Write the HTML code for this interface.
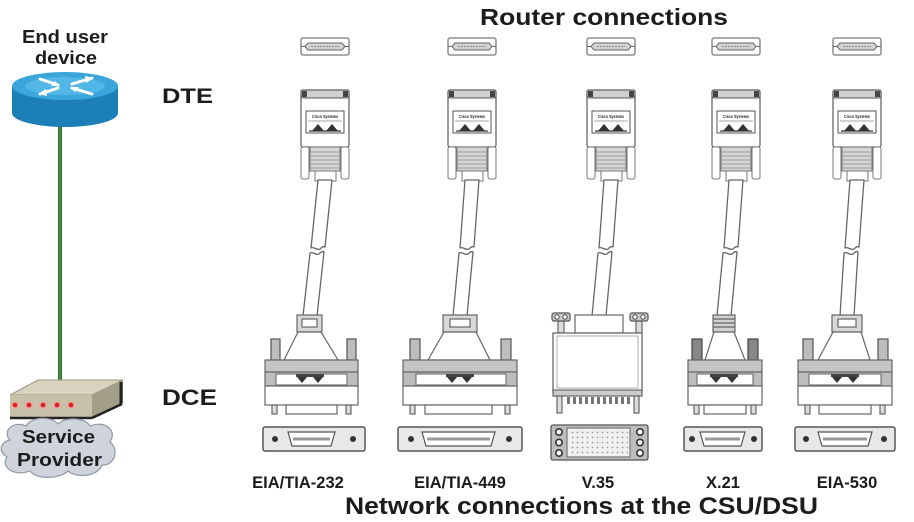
<!DOCTYPE html>
<html><head><meta charset="utf-8">
<style>
html,body{margin:0;padding:0;background:#fff;}
svg{display:block;}
text{font-family:"Liberation Sans",Arial,sans-serif;font-weight:bold;fill:#1c1c1c;}
</style></head><body>
<svg width="914" height="522" viewBox="0 0 914 522" xmlns="http://www.w3.org/2000/svg">
<defs>
<pattern id="pins" x="0" y="0" width="5" height="5" patternUnits="userSpaceOnUse">
<circle cx="2.5" cy="2.5" r="0.9" fill="#9a9a9a"/>
</pattern>
<g id="top">
 <rect x="-24" y="38" width="48" height="17" rx="2" fill="#fff" stroke="#7a7a7a" stroke-width="1.3"/>
 <path d="M-17,43 L17,43 L20,46.5 L17,50 L-17,50 L-20,46.5 Z" fill="#d4d4d4" stroke="#666" stroke-width="1"/>
 <line x1="-14" y1="46.5" x2="14" y2="46.5" stroke="#888" stroke-width="1" stroke-dasharray="2 1"/>
 <line x1="-24" y1="46.5" x2="-20" y2="46.5" stroke="#666"/>
 <line x1="20" y1="46.5" x2="24" y2="46.5" stroke="#666"/>
 <rect x="-24" y="90" width="48" height="57" rx="2" fill="#fff" stroke="#666" stroke-width="1.3"/>
 <rect x="-24" y="90" width="48" height="8" rx="2" fill="#d0d0d0" stroke="#555"/>
 <rect x="-23" y="91" width="5" height="6" fill="#444"/>
 <rect x="18" y="91" width="5" height="6" fill="#444"/>
 <rect x="-19" y="111" width="38" height="22" fill="#fff" stroke="#555"/>
 <line x1="-17" y1="121" x2="17" y2="121" stroke="#888" stroke-width="0.8"/>
 <line x1="-16" y1="131" x2="16" y2="131" stroke="#333" stroke-width="1.2"/>
 <path d="M-13,131 L-7,124 L-1,131 Z M1,131 L7,124 L13,131 Z" fill="#333"/>
 <rect x="-24" y="147" width="8" height="32" rx="2" fill="#fff" stroke="#777"/>
 <rect x="16" y="147" width="8" height="32" rx="2" fill="#fff" stroke="#777"/>
 <rect x="-15" y="147" width="30" height="24" fill="#d6d6d6" stroke="#777"/>
 <g stroke="#999" stroke-width="1">
  <line x1="-15" y1="152" x2="15" y2="152"/><line x1="-15" y1="156" x2="15" y2="156"/>
  <line x1="-15" y1="160" x2="15" y2="160"/><line x1="-15" y1="164" x2="15" y2="164"/>
  <line x1="-15" y1="168" x2="15" y2="168"/>
 </g>
 <rect x="-10" y="171" width="21" height="10" fill="#fff" stroke="#777"/>
</g>
</defs>

<!-- Titles -->
<text x="480" y="25" font-size="23" textLength="248" lengthAdjust="spacingAndGlyphs">Router connections</text>
<text x="345" y="514" font-size="24" textLength="473" lengthAdjust="spacingAndGlyphs">Network connections at the CSU/DSU</text>

<!-- Left side -->
<text x="22" y="43" font-size="18" textLength="86" lengthAdjust="spacingAndGlyphs">End user</text>
<text x="35" y="64" font-size="18" textLength="62" lengthAdjust="spacingAndGlyphs">device</text>
<text x="162" y="103" font-size="21" textLength="51" lengthAdjust="spacingAndGlyphs">DTE</text>
<text x="162" y="405" font-size="22" textLength="55" lengthAdjust="spacingAndGlyphs">DCE</text>

<!-- green link -->
<line x1="60" y1="120" x2="60" y2="386" stroke="#2f6f2f" stroke-width="4"/>
<line x1="60" y1="120" x2="60" y2="386" stroke="#5f9f5f" stroke-width="1"/>

<!-- router icon -->
<path d="M12,86 L12,113 A53,14 0 0 0 118,113 L118,86 Z" fill="#1c7fb8"/>
<ellipse cx="65" cy="86" rx="53" ry="14" fill="#3ba6dc"/>
<ellipse cx="65" cy="86" rx="40" ry="9" fill="#52b6e6"/>
<g stroke="#fff" stroke-width="3" fill="none" stroke-linecap="round">
 <path d="M40,79 L58,85"/><path d="M72,88 L92,94"/>
 <path d="M40,94 L58,88"/><path d="M72,84 L92,78"/>
</g>
<g fill="#fff">
 <path d="M60,86 L51,86 L55,81 Z"/><path d="M70,87 L79,87 L75,92 Z"/>
 <path d="M38,94 L46,89 L47,96 Z"/><path d="M94,78 L86,83 L85,76 Z"/>
</g>

<!-- modem -->
<polygon points="10,395 38,380 123,380 92,395" fill="#d8d3be" stroke="#9c977f" stroke-width="1"/>
<polygon points="10,395 92,395 92,418 10,418" fill="#c7c1aa"/>
<polygon points="92,395 123,380 123,403 92,418" fill="#a39e88"/>
<line x1="121" y1="382" x2="121" y2="404" stroke="#222" stroke-width="3"/>
<line x1="10" y1="418" x2="92" y2="418" stroke="#222" stroke-width="2.5"/>
<line x1="92" y1="418" x2="122" y2="404" stroke="#222" stroke-width="2.5"/>
<g fill="#f29a9a" opacity="0.7">
 <circle cx="15" cy="405" r="4"/><circle cx="29" cy="405" r="4"/><circle cx="43" cy="405" r="4"/><circle cx="57" cy="405" r="4"/><circle cx="71" cy="405" r="4"/>
</g>
<g fill="#e01e1e">
 <circle cx="15" cy="405" r="2.3"/><circle cx="29" cy="405" r="2.3"/><circle cx="43" cy="405" r="2.3"/><circle cx="57" cy="405" r="2.3"/><circle cx="71" cy="405" r="2.3"/>
</g>

<!-- cloud -->
<path d="M10,440 C2,432 12,420 26,426 C32,416 52,416 58,424 C66,416 86,418 90,426 C104,420 118,430 110,442 C120,450 114,466 102,465 C98,476 78,479 68,471 C58,480 36,479 30,471 C14,477 0,467 7,457 C-2,452 0,442 10,440 Z" fill="#cfd3db" stroke="#9098a6" stroke-width="1.2"/>
<text x="22" y="443" font-size="18" textLength="73" lengthAdjust="spacingAndGlyphs">Service</text>
<text x="17" y="466" font-size="18" textLength="85" lengthAdjust="spacingAndGlyphs">Provider</text>

<!-- top assemblies -->
<use href="#top" x="325"/>
<use href="#top" x="472"/>
<use href="#top" x="611"/>
<use href="#top" x="736"/>
<use href="#top" x="857"/>
<g font-size="4" style="font-weight:normal">
<text x="312" y="118" font-size="4.5" textLength="26" lengthAdjust="spacingAndGlyphs">Cisco Systems</text>
<text x="459" y="118" font-size="4.5" textLength="26" lengthAdjust="spacingAndGlyphs">Cisco Systems</text>
<text x="598" y="118" font-size="4.5" textLength="26" lengthAdjust="spacingAndGlyphs">Cisco Systems</text>
<text x="723" y="118" font-size="4.5" textLength="26" lengthAdjust="spacingAndGlyphs">Cisco Systems</text>
<text x="844" y="118" font-size="4.5" textLength="26" lengthAdjust="spacingAndGlyphs">Cisco Systems</text>
</g>

<!-- cables -->
<g fill="#fff" stroke="#666" stroke-width="1.3" stroke-linejoin="round">
<path d="M318,180 L311,248 C314,246 317,251 320,249 C322,247 324,246 325,247 L332,180 Z"/>
<path d="M310,253 C313,251 316,256 319,254 C321,252 323,251 324,252 L317,316 L303,316 Z"/>
<path d="M465,180 L460,248 C463,246 466,251 469,249 C471,247 473,246 474,247 L479,180 Z"/>
<path d="M459,253 C462,251 465,256 468,254 C470,252 472,251 473,252 L467,316 L453,316 Z"/>
<path d="M604,180 L599,248 C602,246 605,251 608,249 C610,247 612,246 613,247 L618,180 Z"/>
<path d="M598,253 C601,251 604,256 607,254 C609,252 611,251 612,252 L606,316 L592,316 Z"/>
<path d="M729,180 L724,248 C727,246 730,251 733,249 C735,247 737,246 738,247 L743,180 Z"/>
<path d="M723,253 C726,251 729,256 732,254 C734,252 736,251 737,252 L731,316 L717,316 Z"/>
<path d="M850,180 L845,248 C848,246 851,251 854,249 C856,247 858,246 859,247 L864,180 Z"/>
<path d="M844,253 C847,251 850,256 853,254 C855,252 857,251 858,252 L854,316 L840,316 Z"/>
</g>

<!-- ===== Col1 EIA/TIA-232 ===== -->
<g stroke="#666" stroke-width="1.2">
<rect x="297" y="315" width="25" height="17" fill="#d8d8d8"/>
<rect x="302" y="319" width="15" height="8" fill="#fff"/>
<path d="M298,332 L321,332 L338,360 L284,360 Z" fill="#fff"/>
<rect x="271" y="339" width="9" height="21" fill="#bdbdbd" stroke="#555"/>
<rect x="347" y="339" width="9" height="21" fill="#bdbdbd" stroke="#555"/>
<rect x="265" y="360" width="93" height="12" fill="#c4c4c4"/>
<rect x="265" y="372" width="93" height="14" fill="#bdbdbd"/>
<rect x="276" y="374" width="71" height="11" fill="#fff" stroke="#777"/>
<rect x="265" y="386" width="93" height="19" fill="#fff"/>
<rect x="272" y="405" width="5" height="9" fill="#ddd"/>
<rect x="346" y="405" width="5" height="9" fill="#ddd"/>
<rect x="286" y="405" width="51" height="9" fill="#fff"/>
<rect x="263" y="427" width="102" height="24" rx="2" fill="#e8e8e8" stroke="#555" stroke-width="1.5"/>
<path d="M288,432 L335,432 L331,446 L292,446 Z" fill="#fff" stroke="#555"/>
</g>
<rect x="296" y="374" width="28" height="3" fill="#444"/>
<path d="M297,377 L307,377 L302,383 Z M313,377 L323,377 L318,383 Z" fill="#333"/>
<line x1="293" y1="439" x2="330" y2="439" stroke="#999" stroke-width="3"/>
<circle cx="275" cy="439" r="3" fill="#333"/><circle cx="353" cy="439" r="3" fill="#333"/>

<!-- ===== Col2 EIA/TIA-449 ===== -->
<g stroke="#666" stroke-width="1.2">
<rect x="443" y="315" width="34" height="17" fill="#d8d8d8"/>
<rect x="450" y="319" width="20" height="8" fill="#fff"/>
<path d="M444,332 L476,332 L490,360 L428,360 Z" fill="#fff"/>
<rect x="410" y="339" width="10" height="21" fill="#bdbdbd" stroke="#555"/>
<rect x="501" y="339" width="10" height="21" fill="#bdbdbd" stroke="#555"/>
<rect x="403" y="360" width="114" height="12" fill="#c4c4c4"/>
<rect x="403" y="372" width="114" height="14" fill="#bdbdbd"/>
<rect x="416" y="374" width="90" height="11" fill="#fff" stroke="#777"/>
<rect x="403" y="386" width="114" height="19" fill="#fff"/>
<rect x="410" y="405" width="5" height="9" fill="#ddd"/>
<rect x="505" y="405" width="5" height="9" fill="#ddd"/>
<rect x="425" y="405" width="67" height="9" fill="#fff"/>
<rect x="398" y="427" width="124" height="24" rx="2" fill="#e8e8e8" stroke="#555" stroke-width="1.5"/>
<path d="M422,432 L495,432 L491,446 L426,446 Z" fill="#fff" stroke="#555"/>
</g>
<rect x="446" y="374" width="28" height="3" fill="#444"/>
<path d="M447,377 L457,377 L452,383 Z M462,377 L472,377 L467,383 Z" fill="#333"/>
<line x1="427" y1="439" x2="490" y2="439" stroke="#999" stroke-width="3"/>
<circle cx="411" cy="439" r="3" fill="#333"/><circle cx="509" cy="439" r="3" fill="#333"/>

<!-- ===== Col3 V.35 ===== -->
<g stroke="#666" stroke-width="1.2">
<rect x="558" y="321" width="6" height="12" fill="#ddd"/>
<rect x="636" y="321" width="6" height="12" fill="#ddd"/>
<rect x="552" y="313" width="18" height="8" rx="2" fill="#c8c8c8" stroke="#555"/>
<rect x="630" y="313" width="18" height="8" rx="2" fill="#c8c8c8" stroke="#555"/>
<rect x="575" y="315" width="48" height="18" fill="#fff"/>
<rect x="553" y="333" width="89" height="59" fill="#fff" stroke-width="1.3"/>
<rect x="557" y="336" width="81" height="52" fill="none" stroke="#999" stroke-width="0.8"/>
<rect x="553" y="390" width="89" height="6" fill="#ccc"/>
<rect x="557" y="396" width="5" height="17" fill="#ddd"/>
<rect x="634" y="396" width="5" height="17" fill="#ddd"/>
<rect x="551" y="425" width="97" height="35" rx="2" fill="#bdbdbd" stroke="#555" stroke-width="1.3"/>
<rect x="567" y="428" width="63" height="29" fill="#f0f0f0" stroke="#777"/>
</g>
<g fill="#fff" stroke="#444" stroke-width="1">
<circle cx="557" cy="317" r="2.2"/><circle cx="565" cy="317" r="2.2"/>
<circle cx="635" cy="317" r="2.2"/><circle cx="643" cy="317" r="2.2"/>
</g>
<g fill="#777">
<rect x="567" y="397" width="3" height="7"/><rect x="573" y="397" width="3" height="7"/><rect x="579" y="397" width="3" height="7"/><rect x="585" y="397" width="3" height="7"/><rect x="591" y="397" width="3" height="7"/><rect x="597" y="397" width="3" height="7"/><rect x="603" y="397" width="3" height="7"/><rect x="609" y="397" width="3" height="7"/><rect x="615" y="397" width="3" height="7"/><rect x="621" y="397" width="3" height="7"/><rect x="627" y="397" width="3" height="7"/>
</g>
<rect x="569" y="430" width="59" height="25" fill="url(#pins)"/>
<g fill="#fff" stroke="#333" stroke-width="1.6">
<circle cx="559" cy="432" r="3.2"/><circle cx="559" cy="442.5" r="3.2"/><circle cx="559" cy="453" r="3.2"/>
<circle cx="640" cy="432" r="3.2"/><circle cx="640" cy="442.5" r="3.2"/><circle cx="640" cy="453" r="3.2"/>
</g>

<!-- ===== Col4 X.21 ===== -->
<g stroke="#666" stroke-width="1.2">
<rect x="713" y="315" width="22" height="17" fill="#d0d0d0"/>
<line x1="713" y1="319" x2="735" y2="319"/><line x1="713" y1="323" x2="735" y2="323"/><line x1="713" y1="327" x2="735" y2="327"/>
<path d="M714,332 L734,332 L745,360 L705,360 Z" fill="#fff"/>
<rect x="692" y="339" width="10" height="21" fill="#888" stroke="#444"/>
<rect x="748" y="339" width="10" height="21" fill="#888" stroke="#444"/>
<rect x="688" y="360" width="74" height="12" fill="#c4c4c4"/>
<rect x="688" y="372" width="74" height="14" fill="#bdbdbd"/>
<rect x="697" y="374" width="56" height="11" fill="#fff" stroke="#777"/>
<rect x="688" y="386" width="74" height="19" fill="#fff"/>
<rect x="694" y="405" width="5" height="9" fill="#ddd"/>
<rect x="751" y="405" width="5" height="9" fill="#ddd"/>
<rect x="704" y="405" width="42" height="9" fill="#fff"/>
<rect x="684" y="427" width="78" height="24" rx="2" fill="#e8e8e8" stroke="#555" stroke-width="1.5"/>
<path d="M700,432 L745,432 L741,446 L704,446 Z" fill="#fff" stroke="#555"/>
</g>
<rect x="710" y="374" width="28" height="3" fill="#444"/>
<path d="M711,377 L721,377 L716,383 Z M727,377 L737,377 L732,383 Z" fill="#333"/>
<line x1="705" y1="439" x2="740" y2="439" stroke="#999" stroke-width="3"/>
<circle cx="692" cy="439" r="3" fill="#333"/><circle cx="754" cy="439" r="3" fill="#333"/>

<!-- ===== Col5 EIA-530 ===== -->
<g stroke="#666" stroke-width="1.2">
<rect x="832" y="315" width="30" height="17" fill="#d8d8d8"/>
<rect x="838" y="319" width="18" height="8" fill="#fff"/>
<path d="M833,332 L861,332 L870,360 L818,360 Z" fill="#fff"/>
<rect x="803" y="339" width="10" height="21" fill="#bdbdbd" stroke="#555"/>
<rect x="878" y="339" width="10" height="21" fill="#bdbdbd" stroke="#555"/>
<rect x="798" y="360" width="94" height="12" fill="#c4c4c4"/>
<rect x="798" y="372" width="94" height="14" fill="#bdbdbd"/>
<rect x="809" y="374" width="72" height="11" fill="#fff" stroke="#777"/>
<rect x="798" y="386" width="94" height="19" fill="#fff"/>
<rect x="805" y="405" width="5" height="9" fill="#ddd"/>
<rect x="880" y="405" width="5" height="9" fill="#ddd"/>
<rect x="819" y="405" width="52" height="9" fill="#fff"/>
<rect x="795" y="427" width="100" height="24" rx="2" fill="#e8e8e8" stroke="#555" stroke-width="1.5"/>
<path d="M818,432 L872,432 L868,446 L822,446 Z" fill="#fff" stroke="#555"/>
</g>
<rect x="831" y="374" width="28" height="3" fill="#444"/>
<path d="M832,377 L842,377 L837,383 Z M848,377 L858,377 L853,383 Z" fill="#333"/>
<line x1="823" y1="439" x2="867" y2="439" stroke="#999" stroke-width="3"/>
<circle cx="806" cy="439" r="3" fill="#333"/><circle cx="884" cy="439" r="3" fill="#333"/>

<!-- labels -->
<g font-size="16.5" text-anchor="middle">
<text x="298" y="488">EIA/TIA-232</text>
<text x="460" y="488">EIA/TIA-449</text>
<text x="598" y="488">V.35</text>
<text x="723" y="488">X.21</text>
<text x="847" y="488">EIA-530</text>
</g>
</svg>
</body></html>
